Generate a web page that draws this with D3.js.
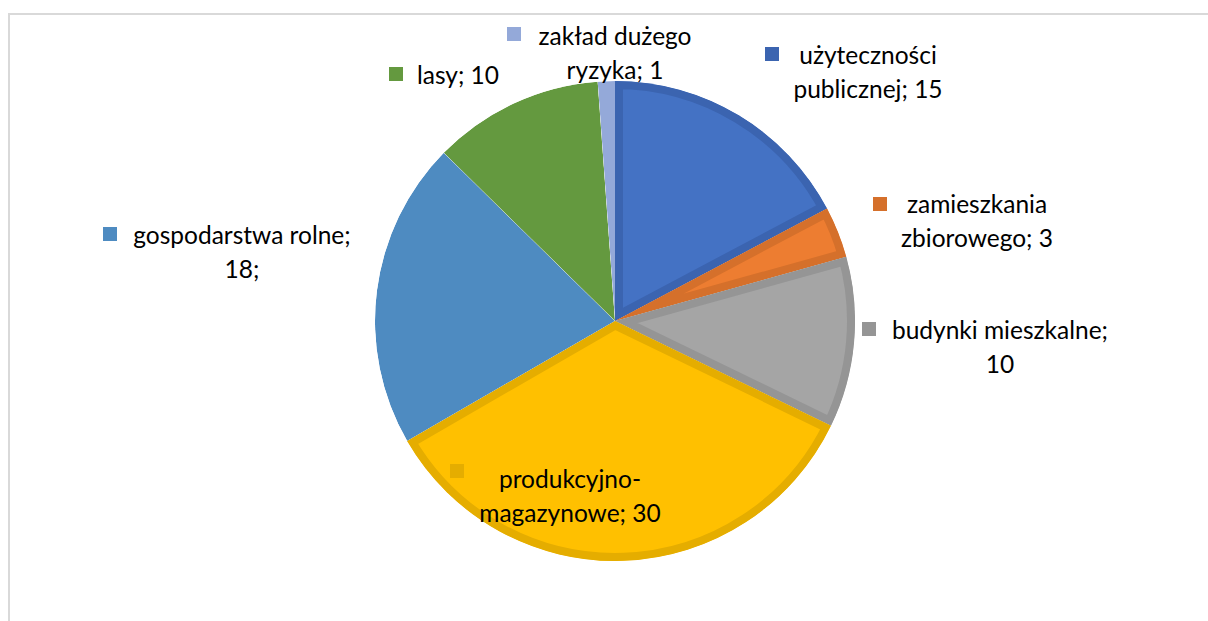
<!DOCTYPE html>
<html>
<head>
<meta charset="utf-8">
<script src="https://cdn.jsdelivr.net/npm/d3@7"></script>
<style>
  body { margin: 0; background: #fff; }
  svg text { font-family: Lato, "Open Sans", sans-serif; fill: #000; }
</style>
</head>
<body>
<div id="graphic"></div>
<script>
// data (clockwise from 12 o'clock)
const categories = ["użyteczności publicznej", "zamieszkania zbiorowego", "budynki mieszkalne",
  "produkcyjno-magazynowe", "gospodarstwa rolne", "lasy", "zakład dużego ryzyka"];
const values = [15, 3, 10, 30, 18, 10, 1];
const labelLines = [
  ["użyteczności", "publicznej; 15"],
  ["zamieszkania", "zbiorowego; 3"],
  ["budynki mieszkalne;", "10"],
  ["produkcyjno-", "magazynowe; 30"],
  ["gospodarstwa rolne;", "18;"],
  ["lasy; 10"],
  ["zakład dużego", "ryzyka; 1"]
];
const fills = ["#4472C4", "#ED7D31", "#A5A5A5", "#FFC000", "#4E8BC1", "#64993F", "#94A9D9"];
const borders = ["#3B64B0", "#D5702B", "#959595", "#E5AD00", null, null, null];
const keyColors = ["#3B64B0", "#D5702B", "#959595", "#E5AD00", "#4E8BC1", "#64993F", "#94A9D9"];

// label layout: key square x, text center x, first baseline y
const labelPos = [
  { kx: 765, ky: 47, cx: 868, by: 64 },
  { kx: 873, ky: 197, cx: 977, by: 213 },
  { kx: 862, ky: 322, cx: 1000, by: 339 },
  { kx: 450, ky: 464, cx: 570, by: 488 },
  { kx: 103, ky: 227, cx: 242, by: 244 },
  { kx: 389, ky: 67, cx: 458, by: 84 },
  { kx: 507, ky: 27, cx: 615, by: 45 }
];

const W = 1208, H = 621;
const cx = 615, cy = 321, r = 240;

const svg = d3.select("#graphic").append("svg")
  .attr("width", W).attr("height", H);

// chart frame
svg.append("rect")
  .attr("x", 9).attr("y", 14).attr("width", W + 10).attr("height", H + 10)
  .attr("fill", "none").attr("stroke", "#d9d9d9").attr("stroke-width", 2);

const data = categories.map((c, i) => ({ name: c, value: values[i], i: i }));
const pie = d3.pie().value(d => d.value).sort(null);
const arcs = pie(data);
const arc = d3.arc().innerRadius(0).outerRadius(r);

const g = svg.append("g").attr("transform", `translate(${cx},${cy})`);

const defs = svg.append("defs");
arcs.forEach((a, i) => {
  defs.append("clipPath").attr("id", "clip" + i)
    .append("path").attr("d", arc(a));
});

g.selectAll("path.slice")
  .data(arcs)
  .join("path")
  .attr("class", "slice")
  .attr("d", arc)
  .attr("fill", d => fills[d.data.i])
  .attr("stroke", d => borders[d.data.i] || "none")
  .attr("stroke-width", 16)
  .attr("stroke-linejoin", "miter")
  .attr("clip-path", d => `url(#clip${d.data.i})`);

// labels with legend keys
const lab = svg.selectAll("g.lab")
  .data(data)
  .join("g")
  .attr("class", "lab");

lab.append("rect")
  .attr("x", d => labelPos[d.i].kx)
  .attr("y", d => labelPos[d.i].ky)
  .attr("width", 14).attr("height", 14)
  .attr("fill", d => keyColors[d.i]);

lab.each(function (d) {
  const p = labelPos[d.i];
  const t = d3.select(this).append("text")
    .attr("text-anchor", "middle")
    .style("font-size", "24.5px");
  labelLines[d.i].forEach((line, k) => {
    t.append("tspan").attr("x", p.cx).attr("y", p.by + k * 33.5).text(line);
  });
});
</script>
</body>
</html>
